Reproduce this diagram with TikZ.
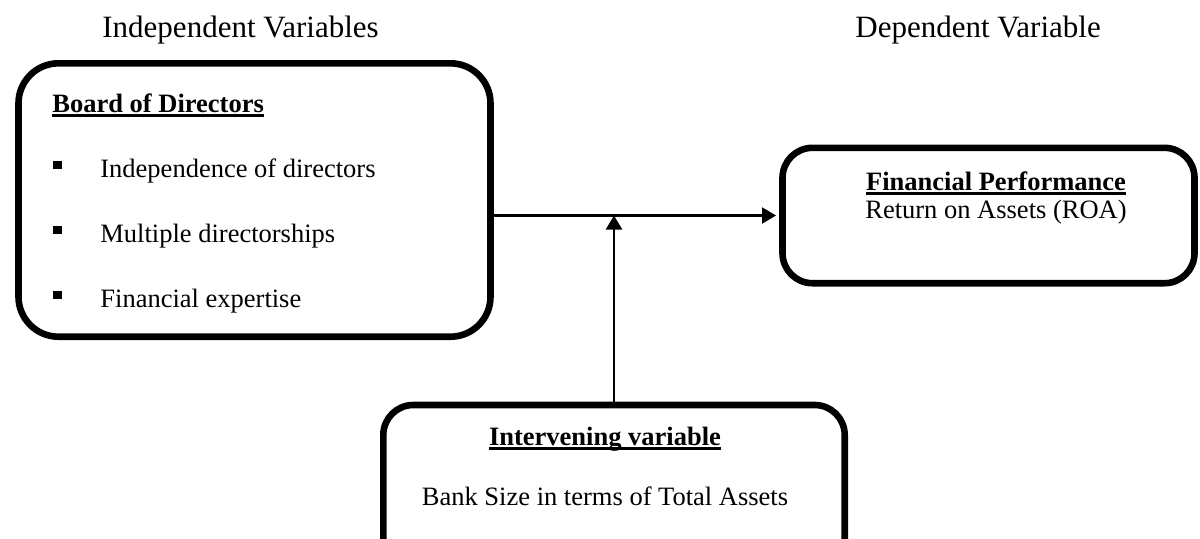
\documentclass[tikz,border=0pt]{standalone}
\usepackage{fontspec}
\setmainfont{Liberation Serif}
\usetikzlibrary{positioning, arrows.meta}

\newcommand{\bodysize}{\fontsize{13.25pt}{16pt}\selectfont}
\newcommand{\headsize}{\fontsize{15.5pt}{18pt}\selectfont}
\newcommand{\ulword}[1]{\setbox0\hbox{#1}\rlap{\rule[-2.3pt]{\wd0}{1.1pt}}\box0}
\newcommand{\sqitem}{\makebox[23.5pt][l]{\rule[3.9pt]{4.4pt}{3.9pt}}}

\tikzset{
  varbox/.style={draw, line width=3.3pt, rounded corners=15pt},
  label text/.style={inner sep=0pt, font=\bodysize},
  head text/.style={inner sep=0pt, anchor=base west, font=\headsize},
  conn/.style={line width=1.1pt, -{Triangle[length=7pt, width=8pt]}}
}

\begin{document}
\begin{tikzpicture}[x=0.5pt, y=-0.5pt]
    \useasboundingbox (0,0) rectangle (1200,538);

    % headings
    \node[head text] (indep) at (102,37) {Independent Variables};
    \node[head text] (dep) at (855,37) {Dependent Variable};

    % boxes
    \node[varbox, rounded corners=20pt, minimum width=236pt, minimum height=136.7pt] (board) at (254.5,200) {};
    \node[varbox, minimum width=206pt, minimum height=67.7pt] (perf) at (988.5,215.5) {};
    \node[varbox, minimum width=230.7pt, minimum height=100pt] (bank) at (614,505) {};

    % text in the boxes
    \node[label text, anchor=base west] (board_title) at (52,112) {\bfseries\ulword{Board of Directors}};
    \node[label text, anchor=base west] (item_1) at (53,177) {\sqitem Independence of directors};
    \node[label text, anchor=base west] (item_2) at (53,242) {\sqitem Multiple directorships};
    \node[label text, anchor=base west] (item_3) at (53,307) {\sqitem Financial expertise};
    \node[label text, anchor=base] (perf_title) at (996,190) {\bfseries\ulword{Financial Performance}};
    \node[label text, anchor=base] (perf_roa) at (996,218) {Return on Assets (ROA)};
    \node[label text, anchor=base] (bank_title) at (605,445) {\bfseries\ulword{Intervening variable}};
    \node[label text, anchor=base] (bank_size) at (605,505) {Bank Size in terms of Total Assets};

    % dot
    \coordinate (junction) at (bank.north |- perf.west);

    \draw[conn, shorten >=1.6pt] (board.east |- perf.west) -- (perf.west);
    \draw[conn] (bank.north) -- (junction);
\end{tikzpicture}
\end{document}
